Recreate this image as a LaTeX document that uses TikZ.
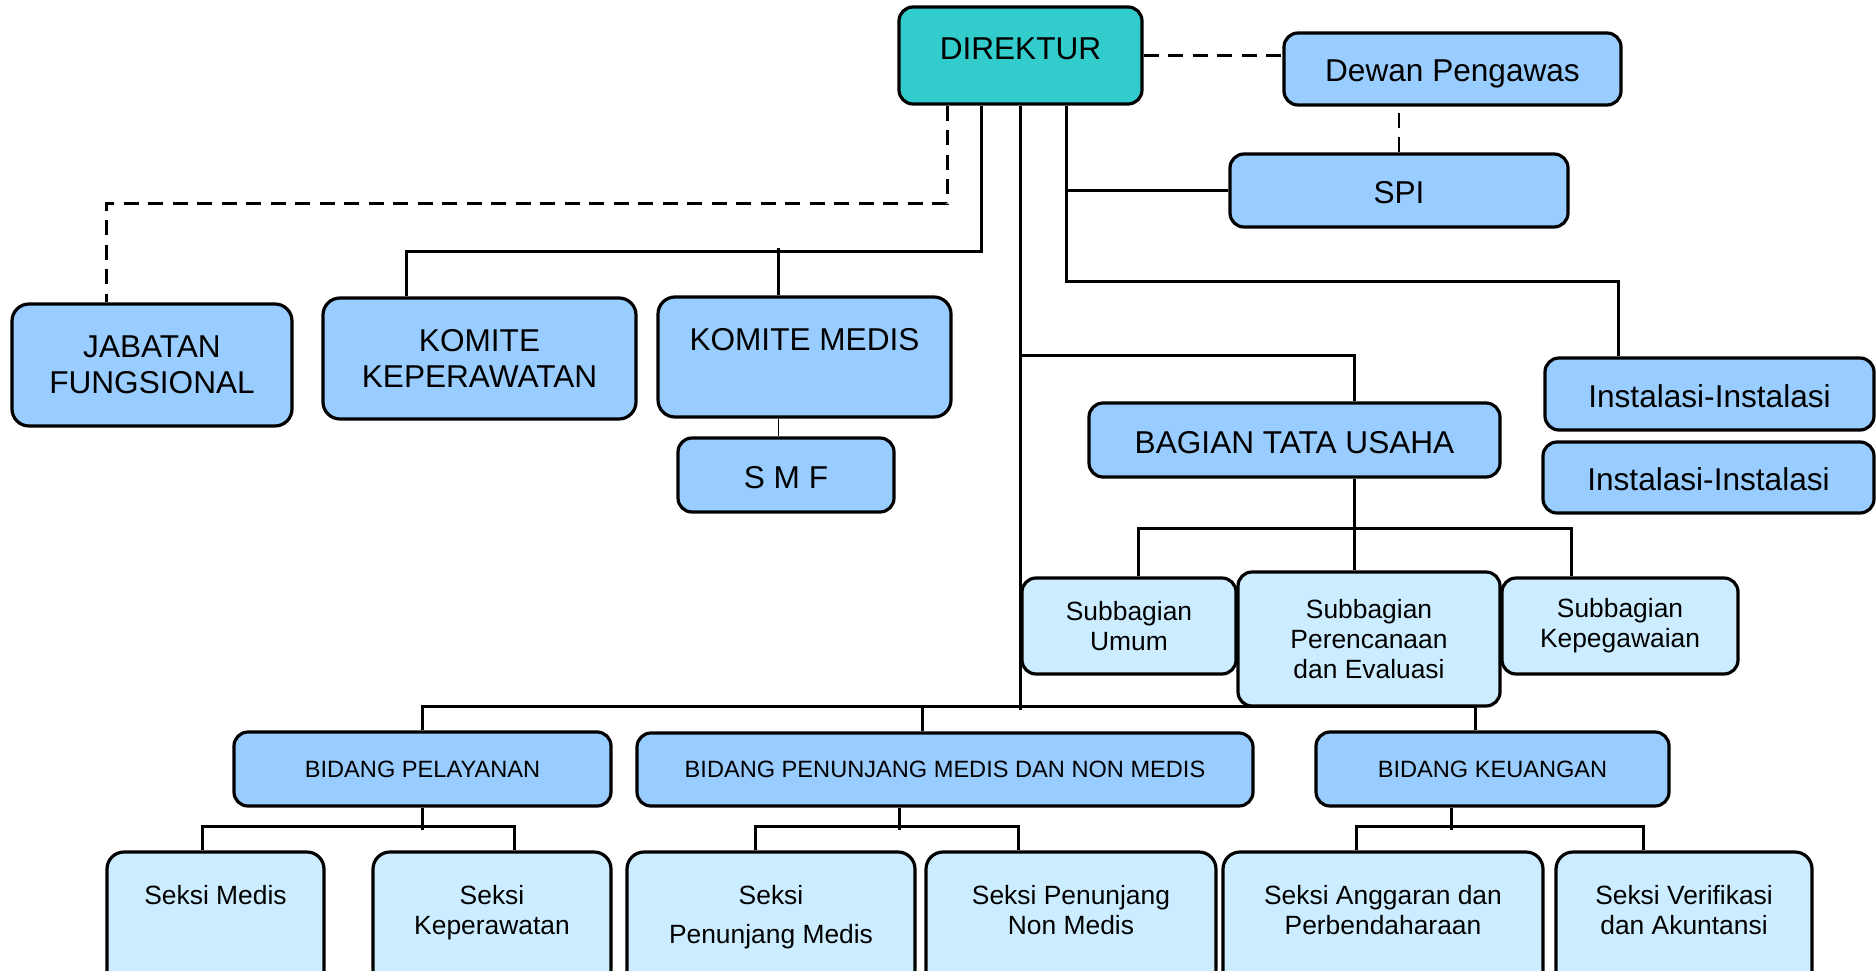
\documentclass[tikz,border=0pt]{standalone}
\usepackage{fontspec}
\setmainfont{Liberation Sans}
\usepackage{tikz}
\usetikzlibrary{calc}
\usetikzlibrary{backgrounds}
\definecolor{headteal}{HTML}{33CCCC}
\definecolor{unitblue}{HTML}{99CCFF}
\definecolor{subblue}{HTML}{CCECFF}
\newcommand{\bigtxt}{\fontsize{31.6}{36}\selectfont}
\newcommand{\midtxt}{\fontsize{26.4}{30}\selectfont}
\newcommand{\smalltxt}{\fontsize{23.6}{28}\selectfont}

\begin{document}
\begin{tikzpicture}[x=1pt, y=-1pt,
  unit/.style={draw, line width=3.2pt, rounded corners=14pt, fill=unitblue, inner sep=0pt, align=center, font=\bigtxt},
  oneline/.style={unit, text height=26pt, text depth=0pt},
  headbox/.style={unit, fill=headteal},
  bidang/.style={unit, font=\smalltxt},
  subunit/.style={unit, fill=subblue, font=\midtxt},
  seksi/.style={subunit, rounded corners=17pt},
  boxtext/.style={inner sep=0pt, align=center, anchor=north},
  link/.style={line width=2.8pt},
  thinlink/.style={line width=1.4pt},
  dashline/.style={link, dash pattern=on 15pt off 9.5pt}]

\useasboundingbox (0,0) rectangle (1876,971);

% top
\node[headbox, minimum width=243, minimum height=97] (direktur) at (1020.5,55.5) {};
\node[boxtext, font=\bigtxt] (direktur-t) at ($(direktur.north)+(0,32.5)$) {DIREKTUR};
\node[oneline, minimum width=337, minimum height=72] (dewan) at (1452.5,69) {Dewan Pengawas};
\node[oneline, minimum width=338, minimum height=73] (spi) at (1399,190.5) {SPI};

% komite
\node[unit, rounded corners=17pt, minimum width=280, minimum height=122] (jabatan) at (152,365) {JABATAN\\FUNGSIONAL};
\node[unit, rounded corners=17pt, minimum width=313, minimum height=121] (kkep) at (479.5,358.5) {KOMITE\\KEPERAWATAN};
\node[unit, rounded corners=17pt, minimum width=293, minimum height=120] (kmedis) at (804.5,357) {};
\node[boxtext, font=\bigtxt] (kmedis-t) at ($(kmedis.north)+(0,32.5)$) {KOMITE MEDIS};
\node[oneline, minimum width=216, minimum height=74] (smf) at (786,475) {S M F};

% instalasi
\node[oneline, minimum width=329, minimum height=72] (inst1) at (1709.5,394) {Instalasi-Instalasi};
\node[oneline, minimum width=331, minimum height=71] (inst2) at (1708.5,477.5) {Instalasi-Instalasi};

% tata usaha
\node[oneline, minimum width=411, minimum height=74] (tu) at (1294.5,440) {BAGIAN TATA USAHA};
\node[subunit, minimum width=214, minimum height=96] (subumum) at (1129,626) {Subbagian\\Umum};
\node[subunit, minimum width=262, minimum height=134] (subren) at (1369,639) {Subbagian\\Perencanaan\\dan Evaluasi};
\node[subunit, minimum width=236, minimum height=96] (subpeg) at (1620,626) {Subbagian\\Kepegawaian};

% bidang
\node[bidang, minimum width=377, minimum height=74] (bpel) at (422.5,769) {BIDANG PELAYANAN};
\node[bidang, minimum width=616, minimum height=73] (bpen) at (945,769.5) {BIDANG PENUNJANG MEDIS DAN NON MEDIS};
\node[bidang, minimum width=353, minimum height=74] (bkeu) at (1492.5,769) {BIDANG KEUANGAN};

% seksi
\node[seksi, minimum width=217, minimum height=138] (smedis) at (215.5,921) {};
\node[seksi, minimum width=238, minimum height=138] (skep) at (492,921) {};
\node[seksi, minimum width=288, minimum height=138] (spm) at (771,921) {};
\node[seksi, minimum width=290, minimum height=138] (spnm) at (1071,921) {};
\node[seksi, minimum width=320, minimum height=138] (sang) at (1383,921) {};
\node[seksi, minimum width=256, minimum height=138] (sver) at (1684,921) {};
\node[boxtext, font=\midtxt] (smedis-t) at ($(smedis.north)+(0,35)$) {Seksi Medis};
\node[boxtext, font=\midtxt] (skep-t) at ($(skep.north)+(0,35)$) {Seksi\\Keperawatan};
\node[boxtext, font=\midtxt] (spm-t) at ($(spm.north)+(0,35)$) {Seksi\\[9pt]Penunjang Medis};
\node[boxtext, font=\midtxt] (spnm-t) at ($(spnm.north)+(0,35)$) {Seksi Penunjang\\Non Medis};
\node[boxtext, font=\midtxt] (sang-t) at ($(sang.north)+(0,35)$) {Seksi Anggaran dan\\Perbendaharaan};
\node[boxtext, font=\midtxt] (sver-t) at ($(sver.north)+(0,35)$) {Seksi Verifikasi\\dan Akuntansi};

\begin{scope}[on background layer]
% garis koordinasi
\draw[dashline] (direktur.east) -- (direktur.east -| dewan.west);
\draw[dashline] (spi.north) -- (spi.north |- dewan.south);
\draw[dashline] ($(direktur.south west)+(50,0)$) -- ++(0,98) -| ($(jabatan.north west)+(96,0)$);

% komite
\draw[link] ($(direktur.south west)+(84,0)$) -- ++(0,146) -| ($(kkep.north west)+(85,0)$);
\draw[link] ($(kmedis.north west)+(122,0)$) -- ++(0,-47);
\draw[thinlink] ($(kmedis.south west)+(122,0)$) -- ($(smf.north west)+(102,0)$);

% spi dan instalasi
\draw[link] ($(direktur.south west)+(169,0)$) -- ++(0,176) -| ($(inst1.north west)+(75,0)$);
\draw[link] (spi.west) -- ++(-162,0);

% batang utama
\draw[link] (direktur.south) -- ++(0,604);
\draw[link] ($(direktur.south)+(0,250)$) -| ($(tu.north west)+(267,0)$);
\draw[link] ($(tu.south west)+(267,0)$) -- ++(0,53);
\draw[link] ($(subumum.north west)+(118,0)$) -- ++(0,-48) -| ($(subpeg.north west)+(71,0)$);
\draw[link] ($(subren.north west)+(118,0)$) -- ++(0,-42);

% bidang
\draw[link] (bpel.north) -- ++(0,-24) -| ($(bkeu.north west)+(161,0)$);
\draw[link] ($(bpen.north west)+(287,0)$) -- ++(0,-25);
\draw[link] (bpel.south) -- ++(0,22);
\draw[link] ($(smedis.north west)+(97,0)$) -- ++(0,-24) -| ($(skep.north west)+(143,0)$);
\draw[link] ($(bpen.south west)+(264,0)$) -- ++(0,22);
\draw[link] ($(spm.north west)+(130,0)$) -- ++(0,-24) -| ($(spnm.north west)+(94,0)$);
\draw[link] ($(bkeu.south west)+(137,0)$) -- ++(0,22);
\draw[link] ($(sang.north west)+(135,0)$) -- ++(0,-24) -| ($(sver.north west)+(89,0)$);
\end{scope}

\end{tikzpicture}
\end{document}
